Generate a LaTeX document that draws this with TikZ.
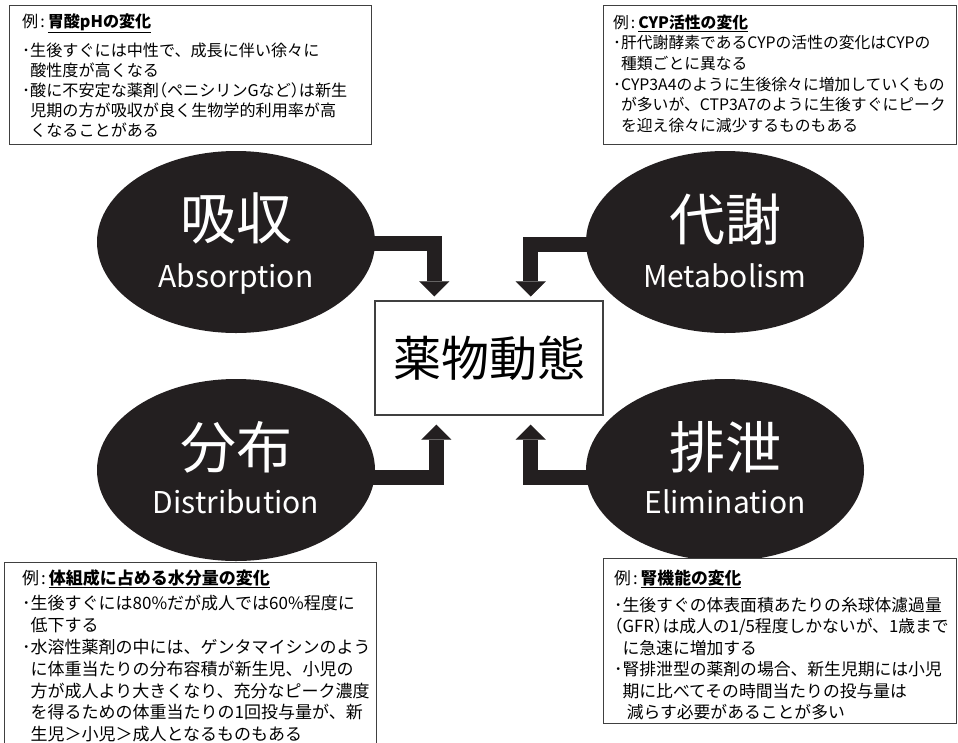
\documentclass[tikz,border=0pt]{standalone}
\usepackage{fontspec}
\setmainfont{Noto Sans CJK JP}
\usetikzlibrary{arrows.meta,calc,shapes.geometric}
\definecolor{ink}{HTML}{231F20}
\definecolor{frame}{HTML}{404040}
\newcommand\bul{･}
\newcommand\ind{\hspace*{0.5em}}
\newcommand\rei[1]{例\kern2pt:\kern3pt\underline{\textbf{#1}}}
\newcommand\lp{\makebox[0.5em][r]{（}}
\newcommand\rp{\makebox[0.5em][l]{）}}
\begin{document}
\begin{tikzpicture}[x=1pt,y=-1pt,
  ell/.style={ellipse, fill=ink, minimum width=278pt, minimum height=182pt, inner sep=0pt},
  jlabel/.style={text=white, font=\fontsize{56}{60}\selectfont, anchor=base, inner sep=0pt},
  elabel/.style={text=white, font=\fontsize{30}{34}\selectfont, anchor=base, inner sep=0pt},
  infobox/.style={draw=frame, line width=1.2pt, fill=white, anchor=north west, inner sep=0pt},
  txt/.style={anchor=base west, inner sep=0pt, text width=360pt, align=left},
  bigarrow/.style={color=ink, line width=15pt, line join=miter, line cap=butt,
    -{Triangle[width=30pt,length=15pt,line width=0.01pt]}}]
\clip (0,0) rectangle (958,742);
\fill[white] (0,0) rectangle (958,742);

% central box
\node[draw=frame, line width=1.3pt, minimum width=228pt, minimum height=114pt, inner sep=0pt,
  font=\fontsize{48}{52}\selectfont] (pk) at (489,358) {薬物動態};

% ellipses
\node[ell] (abs) at (236,242) {};
\node[ell] (met) at (725,242) {};
\node[ell] (dis) at (236,470) {};
\node[ell] (eli) at (725,470) {};

\node[jlabel] (absj) at (236,239) {吸収};
\node[elabel] (abse) at (236,287) {Absorption};
\node[jlabel] (metj) at (725,240) {代謝};
\node[elabel] (mete) at (725,287) {Metabolism};
\node[jlabel] (disj) at (236,468) {分布};
\node[elabel] (dise) at (236,513) {Distribution};
\node[jlabel] (elij) at (725,468) {排泄};
\node[elabel] (elie) at (725,513) {Elimination};

% arrows
\draw[bigarrow] ($(abs.east)+(-6,1)$) -| ($(pk.north west)+(60,-4)$);
\draw[bigarrow] ($(met.west)+(6,2)$) -| ($(pk.north east)+(-73,-4)$);
\draw[bigarrow] ($(dis.east)+(-6,7)$) -| ($(pk.south west)+(62,9)$);
\draw[bigarrow] ($(eli.west)+(6,7)$) -| ($(pk.south east)+(-73,9)$);

% info boxes
\node[infobox, minimum width=362pt, minimum height=139pt] (tlbox) at (9,5) {};
\node[infobox, minimum width=353pt, minimum height=139pt] (trbox) at (603,5) {};
\node[infobox, minimum width=372pt, minimum height=200pt] (blbox) at (4,562) {};
\node[infobox, minimum width=353pt, minimum height=165pt] (brbox) at (603,558) {};

\node[txt, font=\fontsize{16.1}{20}\selectfont] (tlt) at (22,27) {\rei{胃酸pHの変化}\\[9pt]
\bul 生後すぐには中性で、成長に伴い徐々に\\
\ind 酸性度が高くなる\\
\bul 酸に不安定な薬剤\lp ペニシリンGなど\rp は新生\\
\ind 児期の方が吸収が良く生物学的利用率が高\\
\ind くなることがある};

\node[txt, font=\fontsize{15.8}{20.7}\selectfont] (trt) at (613,28) {\rei{CYP活性の変化}\\
\bul 肝代謝酵素であるCYPの活性の変化はCYPの\\
\ind 種類ごとに異なる\\
\bul CYP3A4のように生後徐々に増加していくもの\\
\ind が多いが、CTP3A7のように生後すぐにピーク\\
\ind を迎え徐々に減少するものもある};

\node[txt, font=\fontsize{17}{21.8}\selectfont] (blt) at (22,584) {\rei{体組成に占める水分量の変化}\\[4pt]
\bul 生後すぐには80\%だが成人では60\%程度に\\
\ind 低下する\\
\bul 水溶性薬剤の中には、ゲンタマイシンのよう\\
\ind に体重当たりの分布容積が新生児、小児の\\
\ind 方が成人より大きくなり、充分なピーク濃度\\
\ind を得るための体重当たりの1回投与量が、新\\
\ind 生児＞小児＞成人となるものもある};

\node[txt, font=\fontsize{16.8}{21.5}\selectfont] (brt) at (614,584) {\rei{腎機能の変化}\\[5.5pt]
\bul 生後すぐの体表面積あたりの糸球体濾過量\\
\lp GFR\rp は成人の1/5程度しかないが、1歳まで\\
\ind に急速に増加する\\
\bul 腎排泄型の薬剤の場合、新生児期には小児\\
\ind 期に比べてその時間当たりの投与量は\\
\hspace*{0.75em}減らす必要があることが多い};
\end{tikzpicture}
\end{document}
